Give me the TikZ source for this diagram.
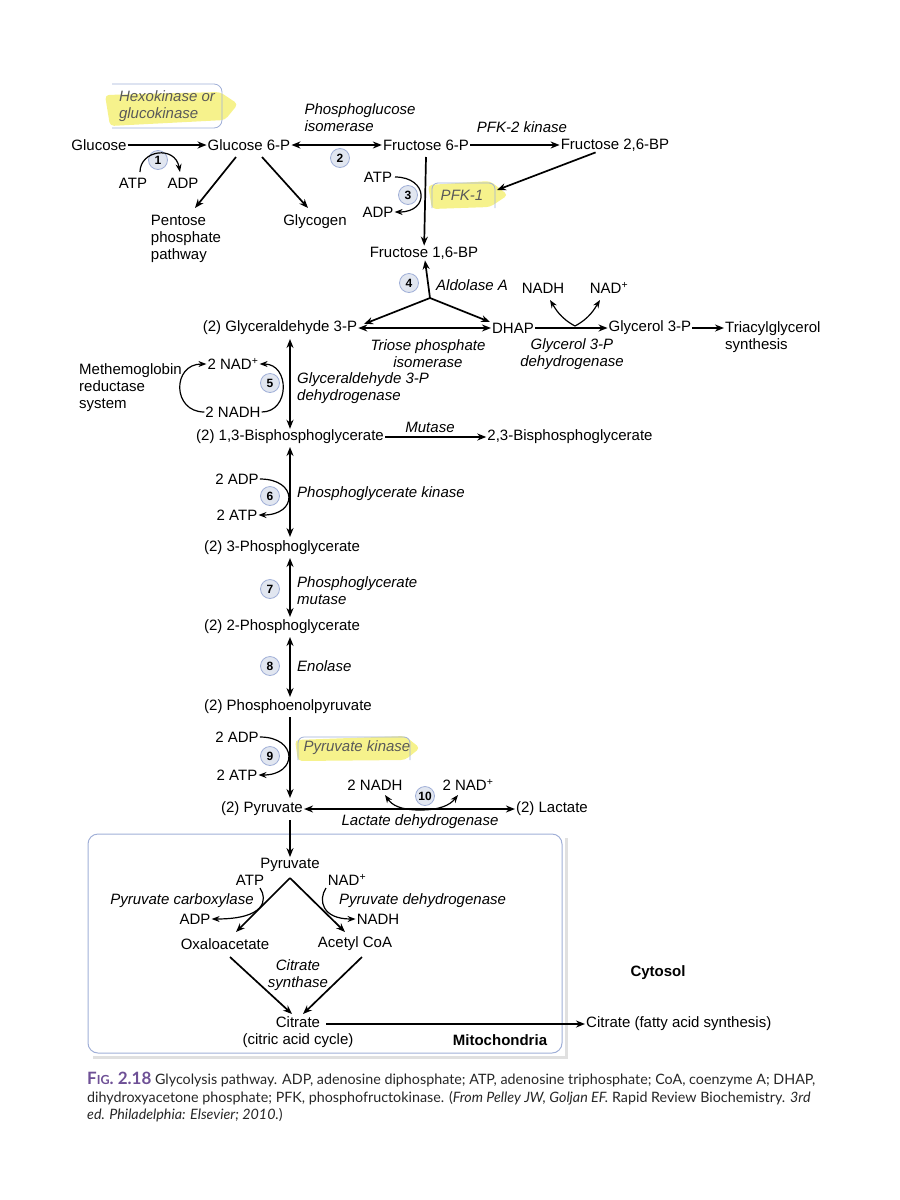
\documentclass[tikz,border=0pt]{standalone}
\usepackage{fontspec}
\setmainfont{Liberation Sans}
\newfontfamily\capfont{Lato}
\usetikzlibrary{arrows.meta}
\definecolor{hl}{RGB}{245,240,120}
\definecolor{bx}{RGB}{160,175,215}
\definecolor{cf}{RGB}{225,230,240}
\definecolor{pur}{RGB}{110,80,150}
\begin{document}
\begin{tikzpicture}[x=1pt,y=-1pt,
  every node/.style={font=\fontsize{15}{17}\selectfont,inner sep=1pt},
  e/.style={font=\fontsize{15}{17}\selectfont\itshape,align=left},
  ar/.style={-{Stealth[length=9pt,width=7pt]},line width=1.7pt},
  dar/.style={{Stealth[length=9pt,width=7pt]}-{Stealth[length=9pt,width=7pt]},line width=1.7pt},
  cur/.style={-{Stealth[length=8pt,width=6pt]},line width=1.2pt},
  num/.style={circle,draw=bx,fill=cf,line width=0.8pt,minimum size=19pt,inner sep=0pt,font=\fontsize{12}{13}\selectfont\bfseries}]
\useasboundingbox (0,0) rectangle (900,1200);
% top row
\node (glc) at (99,145) {Glucose};
\node (g6p) at (249,145) {Glucose 6-P};
\node (f6p) at (426,145) {Fructose 6-P};
\node (f26) at (615,145) {Fructose 2,6-BP};
\fill[hl,opacity=0.85,rounded corners=4pt] (105,95) -- (220,92) -- (238,104) -- (225,120) -- (110,126) -- cycle;
\draw[bx,line width=0.8pt,rounded corners=8pt] (112,84) -- (222,84) -- (222,128) -- (112,128);
\node[e,text=black!65] (hk) at (167,106) {Hexokinase or\\glucokinase};
\draw[ar] (glc) -- (g6p);
\node[num] (n1) at (158,160) {1};
\node (atp1) at (133,183) {ATP};
\node (adp1) at (183,183) {ADP};
\draw[cur] (140,172) .. controls (140,150) and (175,145) .. (180,172);
\node[e] (pgi) at (360,118) {Phosphoglucose\\isomerase};
\draw[dar] (g6p) -- (f6p);
\node[num] (n2) at (340,158) {2};
\node[e] (pfk2) at (522,127) {PFK-2 kinase};
\draw[ar] (f6p) -- (f26);
\node (pent) [align=left] at (186,239) {Pentose\\phosphate\\pathway};
\node (glyc) at (315,222) {Glycogen};
\draw[ar] (236,157) -- (195,208);
\draw[ar] (262,157) -- (308,208);
\node (f16) at (424,253) {Fructose 1,6-BP};
\draw[ar] (426,157) -- (f16);
\node (atp3) at (378,177) {ATP};
\node (adp3) at (378,212) {ADP};
\node[num] (n3) at (408,195) {3};
\draw[cur] (395,177) .. controls (428,177) and (430,212) .. (adp3.east);
\fill[hl,opacity=0.85,rounded corners=4pt] (428,185) -- (490,181) -- (508,195) -- (490,207) -- (432,209) -- cycle;
\draw[bx,line width=0.8pt,rounded corners=6pt] (432,208) -- (432,183) -- (495,183) -- (495,208);
\node[e,text=black!65] (pfk1) at (462,195) {PFK-1};
\draw[ar] (f26) -- (497,190);
% aldolase
\coordinate (apex) at (430,298);
\draw[ar] (apex) -- (f16);
\node[num] (n4) at (409,283) {4};
\node[e,anchor=west] (ald) at (435,285) {Aldolase A};
\node (g3p) at (280,328) {(2) Glyceraldehyde 3-P};
\node (dhap) at (513,328) {DHAP};
\draw[ar] (apex) -- (364,324);
\draw[ar] (apex) -- (490,322);
\draw[dar] (g3p) -- (dhap);
\node[e,align=center] (tpi) at (428,354) {Triose phosphate\\isomerase};
\node (nadh0) at (543,288) {NADH};
\node (nad0) at (609,288) {NAD\textsuperscript{+}};
\node (gly3p) at (650,328) {Glycerol 3-P};
\draw[ar] (dhap) -- (gly3p);
\draw[cur] (575,326) .. controls (560,318) and (555,308) .. (550,300);
\draw[cur] (575,326) .. controls (590,318) and (595,308) .. (600,300);
\node[e,align=center] (g3pdh) at (572,354) {Glycerol 3-P\\dehydrogenase};
\node[align=left,anchor=west] (tag) at (724,337) {Triacylglycerol\\synthesis};
\draw[ar] (gly3p) -- (tag.west|-gly3p);
% step 5
\node (bpg) at (290,437) {(2) 1,3-Bisphosphoglycerate};
\draw[dar] (290,339) -- (bpg);
\node (nad5) at (233,364) {2 NAD\textsuperscript{+}};
\node (nadh5) at (233,412) {2 NADH};
\node[num] (n5) at (270,383) {5};
\draw[cur] (nadh5.east) .. controls (290,412) and (290,364) .. (nad5.east);
\draw[cur] (nadh5.west) .. controls (172,412) and (172,364) .. (nad5.west);
\node[e,anchor=west] (gapdh) at (296,388) {Glyceraldehyde 3-P\\dehydrogenase};
\node[align=left,anchor=west] (meth) at (78,388) {Methemoglobin\\reductase\\system};
\node (bpg23) at (570,437) {2,3-Bisphosphoglycerate};
\draw[ar] (bpg) -- (bpg23);
\node[e] (mut) at (430,427) {Mutase};
% step 6
\node (pg3) at (282,548) {(2) 3-Phosphoglycerate};
\draw[dar] (290,447) -- (290,537);
\node (adp6) at (237,479) {2 ADP};
\node (atp6) at (237,515) {2 ATP};
\node[num] (n6) at (270,496) {6};
\draw[cur] (adp6.east) .. controls (298,479) and (298,515) .. (atp6.east);
\node[e,anchor=west] (pgk) at (296,494) {Phosphoglycerate kinase};
% step 7
\node (pg2) at (282,627) {(2) 2-Phosphoglycerate};
\draw[dar] (290,558) -- (290,617);
\node[num] (n7) at (270,589) {7};
\node[e,anchor=west] (pgm) at (296,591) {Phosphoglycerate\\mutase};
% step 8
\node (pep) at (288,707) {(2) Phosphoenolpyruvate};
\draw[dar] (290,637) -- (290,697);
\node[num] (n8) at (270,666) {8};
\node[e,anchor=west] (eno) at (296,666) {Enolase};
% step 9
\node (pyr) at (262,809) {(2) Pyruvate};
\draw[ar] (290,717) -- (290,798);
\node (adp9) at (237,737) {2 ADP};
\node (atp9) at (237,775) {2 ATP};
\node[num] (n9) at (270,756) {9};
\draw[cur] (adp9.east) .. controls (298,737) and (298,775) .. (atp9.east);
\fill[hl,opacity=0.85,rounded corners=4pt] (295,740) -- (405,736) -- (420,748) -- (405,760) -- (298,761) -- cycle;
\draw[bx,line width=0.8pt,rounded corners=6pt] (298,760) -- (298,737) -- (410,737) -- (410,760);
\node[e,text=black!65] (pk) at (357,748) {Pyruvate kinase};
% step 10
\node (lac) at (552,809) {(2) Lactate};
\draw[dar] (pyr) -- (lac);
\node[num] (n10) at (425,796) {10};
\node (nadh10) at (375,785) {2 NADH};
\node (nad10) at (468,785) {2 NAD\textsuperscript{+}};
\draw[cur] (420,810) .. controls (440,810) and (450,805) .. (458,795);
\draw[cur] (420,810) .. controls (400,810) and (392,805) .. (385,795);
\node[e] (ldh) at (420,822) {Lactate dehydrogenase};
% mitochondria
\draw[black!12,line width=3pt] (93,1057) -- (566,1057) -- (566,838);
\draw[bx,line width=1pt,rounded corners=10pt] (88,834) rectangle (562,1053);
\node (pyrm) at (290,865) {Pyruvate};
\draw[ar] (290,820) -- (pyrm);
\node (atpm) at (250,880) {ATP};
\node (nadm) at (347,880) {NAD\textsuperscript{+}};
\node (oaa) at (225,944) {Oxaloacetate};
\node (acoa) at (355,944) {Acetyl CoA};
\coordinate (pv) at (290,878);
\draw[ar] (pv) -- (236,932);
\draw[ar] (pv) -- (345,932);
\node[e] (pc) at (182,901) {Pyruvate carboxylase};
\node[e,anchor=west] (pdh) at (338,901) {Pyruvate dehydrogenase};
\node (adpm) at (195,919) {ADP};
\node (nadhm) at (378,919) {NADH};
\draw[cur] (260,888) .. controls (268,900) and (265,919) .. (adpm.east);
\draw[cur] (326,888) .. controls (318,900) and (322,919) .. (nadhm.west);
\node[e,align=center] (cs) at (298,975) {Citrate\\synthase};
\node[align=center] (cit) at (298,1032) {Citrate\\(citric acid cycle)};
\draw[ar] (230,957) -- (292,1014);
\draw[ar] (362,957) -- (303,1014);
\node[font=\fontsize{15}{17}\selectfont\bfseries] (mito) at (500,1040) {Mitochondria};
\node[font=\fontsize{15}{17}\selectfont\bfseries] (cyto) at (658,973) {Cytosol};
\node[anchor=west] (citf) at (585,1024) {Citrate (fatty acid synthesis)};
\draw[ar] (326,1024) -- (citf.west);
% caption
\node[anchor=north west,align=left,font=\capfont\fontsize{14.3}{17.5}\selectfont,text=black!85] (cap) at (86,1071)
{{\color{pur}\bfseries\fontsize{17}{17}\selectfont F{\fontsize{12.5}{12}\selectfont IG}. 2.18} Glycolysis pathway. ADP, adenosine diphosphate; ATP, adenosine triphosphate; CoA, coenzyme A; DHAP,\\ dihydroxyacetone phosphate; PFK, phosphofructokinase. (\textit{From Pelley JW, Goljan EF.} Rapid Review Biochemistry. \textit{3rd}\\ \textit{ed. Philadelphia: Elsevier; 2010.})};
\end{tikzpicture}
\end{document}
